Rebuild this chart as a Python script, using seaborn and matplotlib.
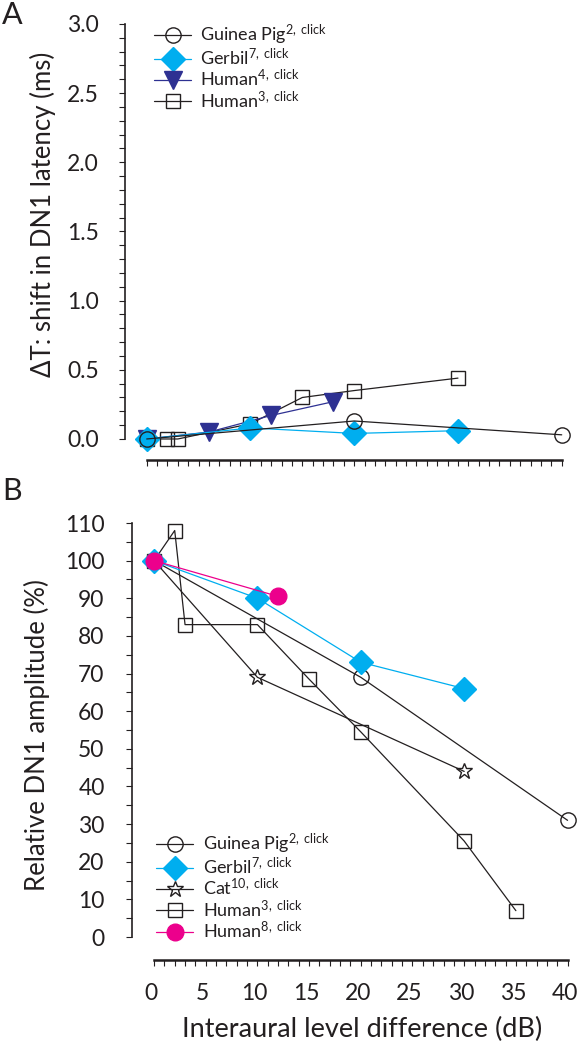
import matplotlib
matplotlib.use("Agg")
import matplotlib.pyplot as plt
from matplotlib.ticker import FixedLocator, NullFormatter
from matplotlib.transforms import ScaledTranslation
import seaborn as sns

sns.set_theme(style="ticks")
FONT = ["Lato", "DejaVu Sans"]
plt.rcParams["font.family"] = FONT
plt.rcParams["mathtext.fontset"] = "custom"
plt.rcParams["mathtext.rm"] = "Lato"
plt.rcParams["mathtext.it"] = "Lato:italic"
plt.rcParams["mathtext.bf"] = "Lato:bold"

# ---------------- data ----------------
# Panel A: shift in DN1 latency (ms) vs ILD (dB)
a_gp_x = [0, 20, 40]
a_gp_y = [0.0, 0.13, 0.03]
a_gb_x = [0, 10, 20, 30]
a_gb_y = [0.0, 0.08, 0.04, 0.06]
a_h4_x = [0, 6, 12, 18]
a_h4_y = [0.0, 0.05, 0.17, 0.27]
a_h3_x = [0, 2, 3, 10, 15, 20, 30]
a_h3_y = [0.0, 0.0, 0.0, 0.11, 0.30, 0.35, 0.44]

# Panel B: relative DN1 amplitude (%) vs ILD (dB)
b_gp_x = [0, 20, 40]
b_gp_y = [100, 69, 31]
b_gb_x = [0, 10, 20, 30]
b_gb_y = [100, 90, 73, 66]
b_cat_x = [0, 10, 30]
b_cat_y = [100, 69, 44]
b_h3_x = [0, 2, 3, 10, 15, 20, 30, 35]
b_h3_y = [100, 108, 83, 83, 68.5, 54.5, 25.5, 7]
b_h8_x = [0, 12]
b_h8_y = [100, 90.5]

a_labels = [r"Guinea Pig$^{\mathrm{2,\ click}}$", r"Gerbil$^{\mathrm{7,\ click}}$",
            r"Human$^{\mathrm{4,\ click}}$", r"Human$^{\mathrm{3,\ click}}$"]
b_labels = [r"Guinea Pig$^{\mathrm{2,\ click}}$", r"Gerbil$^{\mathrm{7,\ click}}$",
            r"Cat$^{\mathrm{10,\ click}}$", r"Human$^{\mathrm{3,\ click}}$",
            r"Human$^{\mathrm{8,\ click}}$"]
x_ticks = [0, 5, 10, 15, 20, 25, 30, 35, 40]
x_minor = list(range(0, 41))
a_yticks = [0.0, 0.5, 1.0, 1.5, 2.0, 2.5, 3.0]
a_yminor = [i / 10 for i in range(0, 31)]
b_yticks = [0, 10, 20, 30, 40, 50, 60, 70, 80, 90, 100, 110]
b_yminor = list(range(0, 111, 5))

BLACK = "#231f20"
CYAN = "#00aeef"
NAVY = "#2e3192"
PINK = "#ec008c"

W, H = 578, 1049
fig = plt.figure(figsize=(W / 100, H / 100), dpi=100)


def add_axes_px(left, right, top, bottom):
    return fig.add_axes([left / W, 1 - bottom / H, (right - left) / W, (bottom - top) / H])


def series(ax, x, y, marker, color, ms, filled, label, z, lw=0.9, mew=1.0):
    sns.lineplot(x=x, y=y, ax=ax, color=color, marker=marker, markersize=ms,
                 markerfacecolor=color if filled else "none",
                 markeredgecolor=color, markeredgewidth=mew, linewidth=lw,
                 label=label, clip_on=False, zorder=z, sort=False,
                 errorbar=None, legend=False)


def style_axes(ax, xlim, ylim, yticks, yminor, ypad, xpad, xlabels):
    ax.set_xlim(*xlim)
    ax.set_ylim(*ylim)
    for s in ["top", "right"]:
        ax.spines[s].set_visible(False)
    for s in ["left", "bottom"]:
        ax.spines[s].set_visible(True)
        ax.spines[s].set_color(BLACK)
        ax.spines[s].set_linewidth(1.2)
    ax.spines["bottom"].set_linewidth(1.8)
    ax.spines["bottom"].set_bounds(0, 40)
    ax.spines["left"].set_bounds(yticks[0], yticks[-1])
    ax.set_facecolor("none")
    ax.yaxis.set_major_locator(FixedLocator(yticks))
    ax.yaxis.set_minor_locator(FixedLocator(yminor))
    ax.xaxis.set_minor_locator(FixedLocator(x_minor))
    if xlabels:
        ax.xaxis.set_major_locator(FixedLocator(x_ticks))
    else:
        ax.xaxis.set_major_locator(FixedLocator(x_minor))
        ax.xaxis.set_major_formatter(NullFormatter())
    ax.tick_params(which="both", direction="out", length=4.5, width=0.8,
                   color=BLACK, labelsize=16.5, labelcolor=BLACK)
    ax.tick_params(axis="y", which="both", pad=ypad)
    ax.tick_params(axis="x", which="both", pad=xpad)
    ax.grid(False)


# ---------------- Panel A ----------------
# x: 0 dB at 146.7 px, 10.375 px/dB ; y: 0 ms at 439 px, 138.33 px/ms
axA = add_axes_px(124.5, 572.1, 24.0, 460.0)
series(axA, a_h3_x, a_h3_y, "s", BLACK, 10, False, a_labels[3], 3)
series(axA, a_h4_x, a_h4_y, "v", NAVY, 13.5, True, a_labels[2], 4)
series(axA, a_gb_x, a_gb_y, "D", CYAN, 12.5, True, a_labels[1], 5)
series(axA, a_gp_x, a_gp_y, "o", BLACK, 11, False, a_labels[0], 6)
style_axes(axA, (-2.14, 41), (-0.152, 3.0), a_yticks, a_yminor, 14, 0, False)
axA.set_yticklabels([f"{v:.1f}" for v in a_yticks])
h, l = axA.get_legend_handles_labels()
order = [3, 2, 1, 0]
legA = axA.legend([h[i] for i in order], [l[i] for i in order],
                  loc="upper left", bbox_to_anchor=(154 / W, 1 - 23 / H),
                  bbox_transform=fig.transFigure, frameon=False, fontsize=13,
                  borderpad=0, borderaxespad=0, handlelength=2.05,
                  handletextpad=0.5, labelspacing=0.0)
for t in legA.get_texts():
    t.set_color(BLACK)

# ---------------- Panel B ----------------
# x: 0 dB at 154 px, 10.34 px/dB ; y: 0 % at 937 px, 3.764 px/%
axB = add_axes_px(131.7, 577.9, 523.0, 960.0)
series(axB, b_h3_x, b_h3_y, "s", BLACK, 9.8, False, b_labels[3], 3)
series(axB, b_cat_x, b_cat_y, "*", BLACK, 12, False, b_labels[2], 4)
series(axB, b_gp_x, b_gp_y, "o", BLACK, 11, False, b_labels[0], 5)
series(axB, b_gb_x, b_gb_y, "D", CYAN, 12, True, b_labels[1], 6)
series(axB, b_h8_x, b_h8_y, "o", PINK, 12, True, b_labels[4], 7)
style_axes(axB, (-2.16, 41), (-6.11, 110), b_yticks, b_yminor, 15, 12, True)
shift = ScaledTranslation(-3 / 100, 0, fig.dpi_scale_trans)
for lab in axB.get_xticklabels():
    lab.set_transform(lab.get_transform() + shift)
h, l = axB.get_legend_handles_labels()
order = [2, 3, 1, 0, 4]
legB = axB.legend([h[i] for i in order], [l[i] for i in order],
                  loc="lower left", bbox_to_anchor=(156 / W, 1 - 941 / H),
                  bbox_transform=fig.transFigure, frameon=False, fontsize=13,
                  borderpad=0, borderaxespad=0, handlelength=2.05,
                  handletextpad=0.55, labelspacing=0.0)
for t in legB.get_texts():
    t.set_color(BLACK)

# ---------------- text ----------------
fig.text(2 / W, 1 - 1 / H, "A", fontsize=22, ha="left", va="top", color=BLACK)
fig.text(2 / W, 1 - 477 / H, "B", fontsize=22, ha="left", va="top", color=BLACK)
fig.text(43 / W, 1 - 214 / H, "ΔT: shift in DN1 latency (ms)", rotation=90,
         fontsize=18.5, ha="center", va="center", color=BLACK, family=FONT)
fig.text(37 / W, 1 - 735 / H, "Relative DN1 amplitude (%)", rotation=90,
         fontsize=18.5, ha="center", va="center", color=BLACK, family=FONT)
fig.text(362 / W, 1 - 1037 / H, "Interaural level difference (dB)",
         fontsize=19.5, ha="center", va="baseline", color=BLACK, family=FONT)

fig.savefig("out.png", dpi=100, facecolor="white")
